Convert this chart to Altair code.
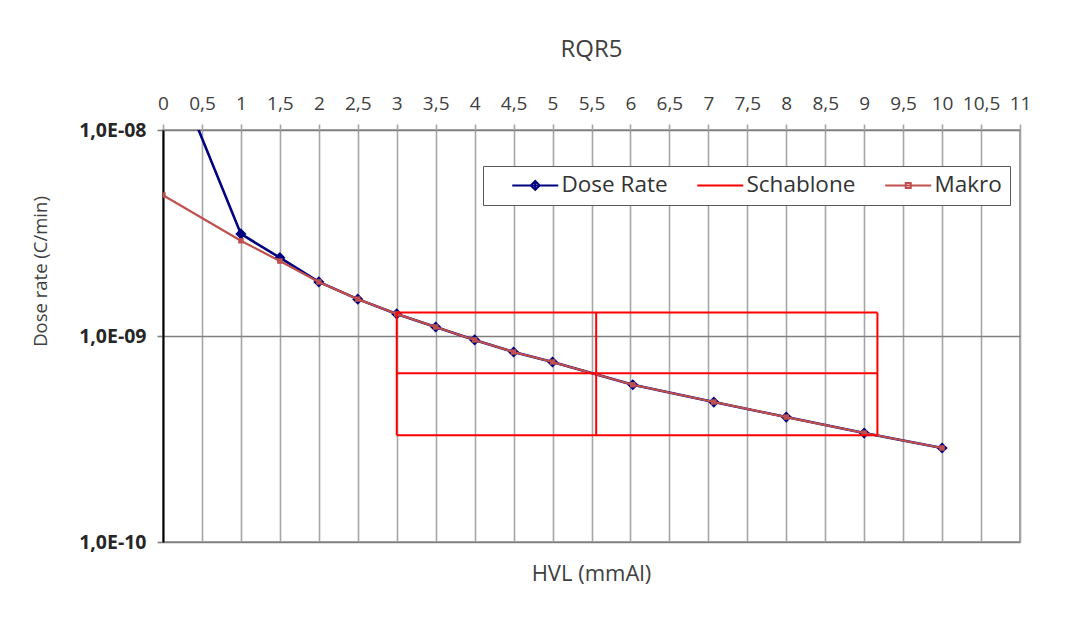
import altair as alt
import pandas as pd

# ---- data ----
series_names = ["Dose Rate", "Schablone", "Makro"]
series_colors = ["#000080", "#FF0000", "#C0504D"]

dose_hvl = [0, 1, 1.5, 2, 2.5, 3, 3.5, 4, 4.5, 5, 6.03, 7.07, 8, 9, 10]
dose_rate = [2.66e-8, 3.13e-9, 2.40e-9, 1.83e-9, 1.51e-9, 1.28e-9, 1.106e-9,
             9.57e-10, 8.36e-10, 7.48e-10, 5.80e-10, 4.78e-10, 4.04e-10,
             3.38e-10, 2.86e-10]

makro_hvl = [0, 1, 1.5, 2, 2.5, 3, 3.5, 4, 4.5, 5, 6.03, 7.07, 8, 9, 10]
makro_rate = [4.83e-9, 2.90e-9, 2.31e-9, 1.83e-9, 1.51e-9, 1.28e-9, 1.106e-9,
              9.57e-10, 8.36e-10, 7.48e-10, 5.80e-10, 4.78e-10, 4.04e-10,
              3.38e-10, 2.86e-10]

schab_x = [3.0, 5.56, 9.17]            # start, 1st HVL, 2nd HVL
schab_y = [1.30e-9, 6.6e-10, 3.3e-10]  # full, half, quarter

x_ticks = [0, 0.5, 1, 1.5, 2, 2.5, 3, 3.5, 4, 4.5, 5, 5.5, 6, 6.5, 7, 7.5,
           8, 8.5, 9, 9.5, 10, 10.5, 11]
y_ticks = [1e-10, 1e-9, 1e-8]

legend_paths = [
    "M0,0L9.2,0M4.6,-0.9L5.5,0L4.6,0.9L3.7,0ZM4.6,-0.9L4.6,0.9",
    "M0,0L9.2,0",
    "M0,0L9.2,0M4.1,-0.5L5.1,-0.5L5.1,0.5L4.1,0.5Z",
]

# ---- tables ----
dose_df = pd.DataFrame({"hvl": dose_hvl, "rate": dose_rate})
makro_df = pd.DataFrame({"hvl": makro_hvl, "rate": makro_rate})

segs = []
for yv in schab_y:
    segs.append({"hvl": schab_x[0], "hvl2": schab_x[-1], "rate": yv, "rate2": yv})
for xv in schab_x:
    segs.append({"hvl": xv, "hvl2": xv, "rate": schab_y[-1], "rate2": schab_y[0]})
schab_df = pd.DataFrame(segs)

legend_df = pd.DataFrame({"series": series_names, "hvl": [None] * 3, "rate": [None] * 3})

FONT = "Open Sans"
TXT = "#404040"

xscale = alt.Scale(domain=[0, 11], nice=False, zero=False)
yscale = alt.Scale(type="log", domain=[1e-10, 1e-8], nice=False)

x_axis = alt.Axis(
    orient="top", values=x_ticks,
    labelExpr="replace(format(datum.value, ''), '.', ',')",
    grid=True, gridColor="#A6A6A6", gridWidth=1.6,
    domain=False, ticks=True, tickColor="#A6A6A6", tickSize=6, tickWidth=1.6,
    labelFont=FONT, labelFontSize=19, labelColor=TXT, labelPadding=11,
    labelOverlap=False, labelFlush=False,
    title="HVL (mmAl)", titleFont=FONT, titleFontSize=22, titleFontWeight="normal",
    titleColor=TXT, titleX=428, titleY=443, titleBaseline="middle", titleAlign="center",
)
y_axis = alt.Axis(
    orient="left", values=y_ticks,
    labelExpr="'1,0E-' + (round(-log(datum.value)/LN10) < 10 ? '0' : '') + round(-log(datum.value)/LN10)",
    grid=True, gridColor="#7F7F7F", gridWidth=1.6,
    domain=True, domainColor="#000000", domainWidth=2,
    ticks=True, tickColor="#7F7F7F", tickSize=6, tickWidth=1.6,
    labelFont=FONT, labelFontSize=19.5, labelFontWeight="bold", labelColor="#262626", labelPadding=11,
    title="Dose rate (C/min)", titleFont=FONT, titleFontSize=18.5, titleFontWeight="normal",
    titleColor=TXT, titleX=-123, titleY=141, titleAngle=270,
    titleBaseline="middle", titleAlign="center",
)

X = alt.X("hvl:Q", scale=xscale, axis=x_axis)
Y = alt.Y("rate:Q", scale=yscale, axis=y_axis)

dose_line = alt.Chart(dose_df).mark_line(strokeWidth=2.6, clip=True, color=series_colors[0]).encode(x=X, y=Y)
dose_pts = alt.Chart(dose_df).mark_point(shape="diamond", filled=True, size=125, opacity=1,
                                         clip=True, color=series_colors[0]).encode(x=X, y=Y)
makro_line = alt.Chart(makro_df).mark_line(strokeWidth=2.2, clip=True, color=series_colors[2]).encode(x=X, y=Y)
makro_pts = alt.Chart(makro_df).mark_point(shape="square", filled=True, size=30, opacity=1,
                                           clip=True, color=series_colors[2]).encode(x=X, y=Y)
schab = alt.Chart(schab_df).mark_rule(strokeWidth=2, clip=True, color=series_colors[1]).encode(
    x=X, x2="hvl2:Q", y=Y, y2="rate2:Q"
)

leg = alt.Legend(
    title=None, orient="none", legendX=320, legendY=36, direction="horizontal",
    fillColor="#FFFFFF", strokeColor="#595959", padding=8,
    labelFont=FONT, labelFontSize=22.5, labelColor="#333333",
    symbolSize=100, symbolStrokeWidth=2, symbolOffset=10, labelOffset=38,
    columnPadding=8,
)
legend_layer = alt.Chart(legend_df).mark_point(filled=False, strokeWidth=2, opacity=1).encode(
    x=X, y=Y,
    color=alt.Color("series:N", scale=alt.Scale(domain=series_names, range=series_colors), legend=leg),
    shape=alt.Shape("series:N", scale=alt.Scale(domain=series_names, range=legend_paths), legend=leg),
)

chart = alt.layer(dose_line, dose_pts, makro_line, makro_pts, schab, legend_layer).properties(
    width=857, height=412,
    background="#FFFFFF",
    padding={"left": 23, "top": 30, "right": 5, "bottom": 5},
    title=alt.TitleParams("RQR5", font=FONT, fontSize=24, fontWeight="normal",
                          color=TXT, frame="group", anchor="middle", offset=32),
).configure_view(
    stroke="#8C8C8C", strokeWidth=1.6
)

chart.save("out.html", embed_options={"renderer": "svg", "actions": False})
